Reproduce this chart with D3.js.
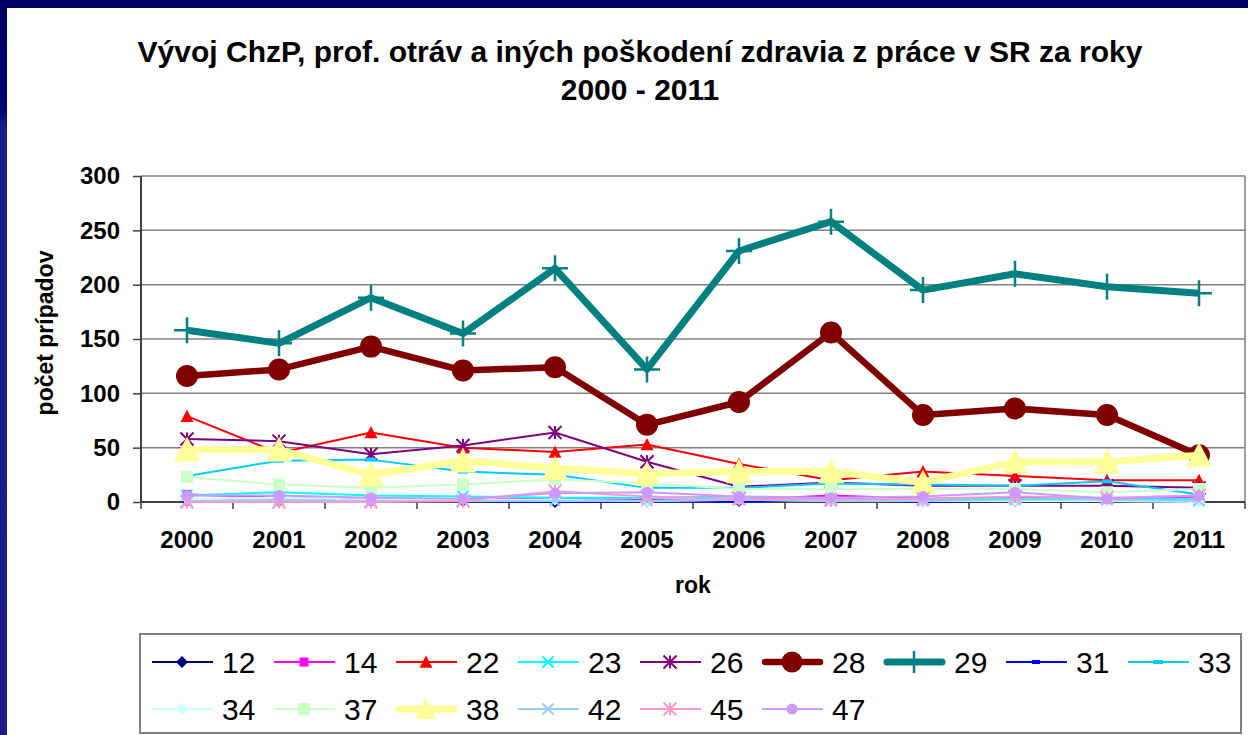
<!DOCTYPE html>
<html>
<head>
<meta charset="utf-8">
<script src="https://cdn.jsdelivr.net/npm/d3@7"></script>
<style>
  body { margin: 0; background: #fff; }
  svg { display: block; font-family: "Liberation Sans", Arial, sans-serif; }
</style>
</head>
<body>
<div id="chart"></div>
<script>
// roky
const years = ["2000", "2001", "2002", "2003", "2004", "2005", "2006", "2007", "2008", "2009", "2010", "2011"]
const yTicks = [0, 50, 100, 150, 200, 250, 300]
// kody skupin
const seriesNames = ["12", "14", "22", "23", "26", "28", "29", "31", "33", "34", "37", "38", "42", "45", "47"]
// pocty pripadov podla skupin
const s12 = [1, 1, 1, 1, 0, 1, 1, 1, 1, 1, 2, 2]
const s14 = [7, 4, 2, 2, 3, 2, 2, 6, 3, 4, 3, 5]
const s22 = [79, 45, 64, 50, 46, 53, 35, 20, 28, 24, 20, 20]
const s23 = [6, 9, 6, 5, 4, 4, 5, 3, 3, 3, 3, 2]
const s26 = [58, 56, 44, 52, 64, 37, 14, 18, 15, 15, 15, 13]
const s28 = [116, 122, 143, 121, 124, 71, 92, 156, 80, 86, 80, 43]
const s29 = [158, 146, 188, 155, 215, 122, 231, 258, 195, 210, 198, 192]
const s31 = [0, 0, 1, 1, 0, 1, 0, 2, 0, 1, 1, 1]
const s33 = [24, 38, 39, 28, 25, 13, 13, 17, 16, 15, 19, 7]
const s34 = [3, 4, 2, 2, 2, 1, 2, 1, 1, 1, 1, 0]
const s37 = [23, 16, 13, 16, 21, 17, 12, 12, 12, 12, 9, 12]
const s38 = [48, 48, 25, 38, 31, 26, 28, 28, 18, 37, 37, 43]
const s42 = [1, 2, 1, 1, 1, 1, 2, 1, 1, 2, 2, 1]
const s45 = [0, 0, 0, 1, 10, 5, 3, 2, 3, 5, 4, 6]
const s47 = [6, 6, 4, 3, 8, 9, 5, 4, 5, 9, 3, 6]
const seriesValues = [s12, s14, s22, s23, s26, s28, s29, s31, s33, s34, s37, s38, s42, s45, s47]

// vzhlad serii (farba, hrubka ciary, znacka)
const styles = {
    "12": { color: "#000080", w: 2, m: "diamond", s: 12 },
    "14": { color: "#FF00FF", w: 2, m: "square", s: 9 },
    "22": { color: "#FF0000", w: 2, m: "triangle", s: 13 },
    "23": { color: "#00FFFF", w: 2, m: "x", s: 11 },
    "26": { color: "#800080", w: 2, m: "star", s: 13 },
    "28": { color: "#800000", w: 6.5, m: "circle", s: 22 },
    "29": { color: "#008080", w: 7, m: "plus", s: 26 },
    "31": { color: "#0000FF", w: 2, m: "dash", s: 8 },
    "33": { color: "#00CCFF", w: 2, m: "dash", s: 10 },
    "34": { color: "#CCFFFF", w: 2, m: "diamond", s: 12 },
    "37": { color: "#CCFFCC", w: 2, m: "square", s: 12 },
    "38": { color: "#FFFF99", w: 7, m: "triangle", s: 26 },
    "42": { color: "#99CCFF", w: 2, m: "x", s: 11 },
    "45": { color: "#FF99CC", w: 2, m: "star", s: 13 },
    "47": { color: "#CC99FF", w: 2, m: "circle", s: 11 }
}

let width = 1248, height = 735
let svg = d3.select("#chart")
    .append("svg")
    .attr("width", width)
    .attr("height", height)

// ramik slajdu
let grad = svg.append("defs").append("linearGradient")
    .attr("id", "side").attr("x1", 0).attr("x2", 0).attr("y1", 0).attr("y2", 1)
grad.append("stop").attr("offset", "0%").attr("stop-color", "#000066")
grad.append("stop").attr("offset", "15%").attr("stop-color", "#000070")
grad.append("stop").attr("offset", "17%").attr("stop-color", "#1c1a88")
grad.append("stop").attr("offset", "100%").attr("stop-color", "#1e1a8c")
svg.append("rect").attr("width", width).attr("height", height).attr("fill", "url(#side)")
svg.append("rect").attr("width", width).attr("height", 8).attr("fill", "#000066")
svg.append("rect").attr("x", 7).attr("y", 8).attr("width", width - 7).attr("height", height - 8).attr("fill", "#fff")

// nadpis
let title = svg.append("text")
    .attr("text-anchor", "middle")
    .attr("font-weight", "bold")
    .attr("font-size", 30)
    .attr("fill", "#000")
title.append("tspan").attr("x", 640).attr("y", 62)
    .text("Vývoj ChzP, prof. otráv a iných poškodení zdravia z práce v SR za roky")
title.append("tspan").attr("x", 640).attr("y", 100).text("2000 - 2011")

let x = d3.scaleBand().domain(years).range([141, 1245])
let y = d3.scaleLinear().domain([0, 300]).range([502, 176])
let cx = (i) => x(years[i]) + x.bandwidth() / 2

// mriezka
svg.append("g").selectAll("line")
    .data(yTicks)
    .enter()
    .append("line")
    .attr("x1", 141).attr("x2", 1245)
    .attr("y1", (d) => y(d)).attr("y2", (d) => y(d))
    .attr("stroke", "#808080")
    .attr("stroke-width", 1.5)
svg.append("line")
    .attr("x1", 1245).attr("x2", 1245).attr("y1", y(300)).attr("y2", y(0))
    .attr("stroke", "#808080").attr("stroke-width", 1.5)

// os y
let yAxis = svg.append("g")
    .attr("transform", "translate(141,0)")
    .call(d3.axisLeft(y).tickValues(yTicks).tickSize(8).tickPadding(13))
yAxis.select(".domain").remove()
yAxis.selectAll(".tick line").attr("stroke", "#404040").attr("stroke-width", 1.5)
yAxis.selectAll(".tick text")
    .attr("font-size", 24).attr("font-weight", "bold").attr("fill", "#000")
    .attr("font-family", "Liberation Sans, Arial, sans-serif")

// os x
let xAxis = svg.append("g")
    .attr("transform", "translate(0,502)")
    .call(d3.axisBottom(x).tickSize(0).tickPadding(29))
xAxis.select(".domain").remove()
xAxis.selectAll(".tick text")
    .attr("font-size", 24).attr("font-weight", "bold").attr("fill", "#000")
    .attr("font-family", "Liberation Sans, Arial, sans-serif")
svg.append("g").selectAll("line")
    .data(years.concat(["end"]))
    .enter()
    .append("line")
    .attr("x1", (d) => d == "end" ? 1245 : x(d))
    .attr("x2", (d) => d == "end" ? 1245 : x(d))
    .attr("y1", 502).attr("y2", 509)
    .attr("stroke", "#404040").attr("stroke-width", 1.5)
svg.append("path")
    .attr("d", `M141,${y(300)} V502 H1245`)
    .attr("fill", "none")
    .attr("stroke", "#404040")
    .attr("stroke-width", 2)

// popisy osi
svg.append("text")
    .attr("transform", "translate(53,333) rotate(-90)")
    .attr("text-anchor", "middle")
    .attr("font-size", 23).attr("font-weight", "bold")
    .text("počet prípadov")
svg.append("text")
    .attr("x", 693).attr("y", 593)
    .attr("text-anchor", "middle")
    .attr("font-size", 23).attr("font-weight", "bold")
    .text("rok")

// znacka
function marker(g, st, px, py) {
    let s = st.s / 2
    let c = st.color
    if (st.m == "circle") {
        g.append("circle").attr("cx", px).attr("cy", py).attr("r", s).attr("fill", c)
    } else if (st.m == "square") {
        g.append("rect").attr("x", px - s).attr("y", py - s).attr("width", 2 * s).attr("height", 2 * s).attr("fill", c)
    } else if (st.m == "diamond") {
        g.append("path").attr("d", `M${px},${py - s}L${px + s},${py}L${px},${py + s}L${px - s},${py}Z`).attr("fill", c)
    } else if (st.m == "triangle") {
        g.append("path").attr("d", `M${px},${py - s}L${px + s},${py + s * 0.9}L${px - s},${py + s * 0.9}Z`).attr("fill", c)
    } else if (st.m == "x") {
        g.append("path").attr("d", `M${px - s},${py - s}L${px + s},${py + s}M${px - s},${py + s}L${px + s},${py - s}`)
            .attr("stroke", c).attr("stroke-width", 2).attr("fill", "none")
    } else if (st.m == "star") {
        g.append("path").attr("d", `M${px - s},${py - s}L${px + s},${py + s}M${px - s},${py + s}L${px + s},${py - s}M${px},${py - s}V${py + s}`)
            .attr("stroke", c).attr("stroke-width", 2).attr("fill", "none")
    } else if (st.m == "plus") {
        g.append("path").attr("d", `M${px - s},${py}H${px + s}M${px},${py - s}V${py + s}`)
            .attr("stroke", c).attr("stroke-width", 2.5).attr("fill", "none")
    } else if (st.m == "dash") {
        g.append("rect").attr("x", px - s).attr("y", py - 2).attr("width", 2 * s).attr("height", 4).attr("fill", c)
    }
}

// serie
let line = d3.line().x((d, i) => cx(i)).y((d) => y(d))
seriesNames.forEach((name, k) => {
    let st = styles[name]
    let g = svg.append("g").attr("class", `series-${name}`)
    g.append("path")
        .datum(seriesValues[k])
        .attr("d", line)
        .attr("fill", "none")
        .attr("stroke", st.color)
        .attr("stroke-width", st.w)
        .attr("stroke-linejoin", "round")
    seriesValues[k].forEach((v, i) => marker(g, st, cx(i), y(v)))
})

// legenda
let legend = svg.append("g")
legend.append("rect")
    .attr("x", 140).attr("y", 634).attr("width", 1101).attr("height", 99)
    .attr("fill", "#fff").attr("stroke", "#808080").attr("stroke-width", 2)
seriesNames.forEach((name, k) => {
    let st = styles[name]
    let col = k < 9 ? k : k - 9
    let row = k < 9 ? 0 : 1
    let lx = 152 + col * 122, ly = 662 + row * 47
    let item = legend.append("g")
    item.append("line")
        .attr("x1", lx + (st.w > 2 ? 3 : 0)).attr("x2", lx + 61 - (st.w > 2 ? 3 : 0))
        .attr("y1", ly).attr("y2", ly)
        .attr("stroke", st.color).attr("stroke-width", st.w)
        .attr("stroke-linecap", st.w > 2 ? "round" : "butt")
    let ls = Object.assign({}, st)
    if (st.m == "circle" && st.s > 15) ls.s = 21
    if (st.m == "plus") ls.s = 22
    if (st.m == "triangle" && st.s > 15) ls.s = 22
    marker(item, ls, lx + 30, ly)
    item.append("text")
        .attr("x", lx + 70).attr("y", ly + 11)
        .attr("font-size", 30)
        .attr("fill", "#000")
        .text(name)
})
</script>
</body>
</html>
